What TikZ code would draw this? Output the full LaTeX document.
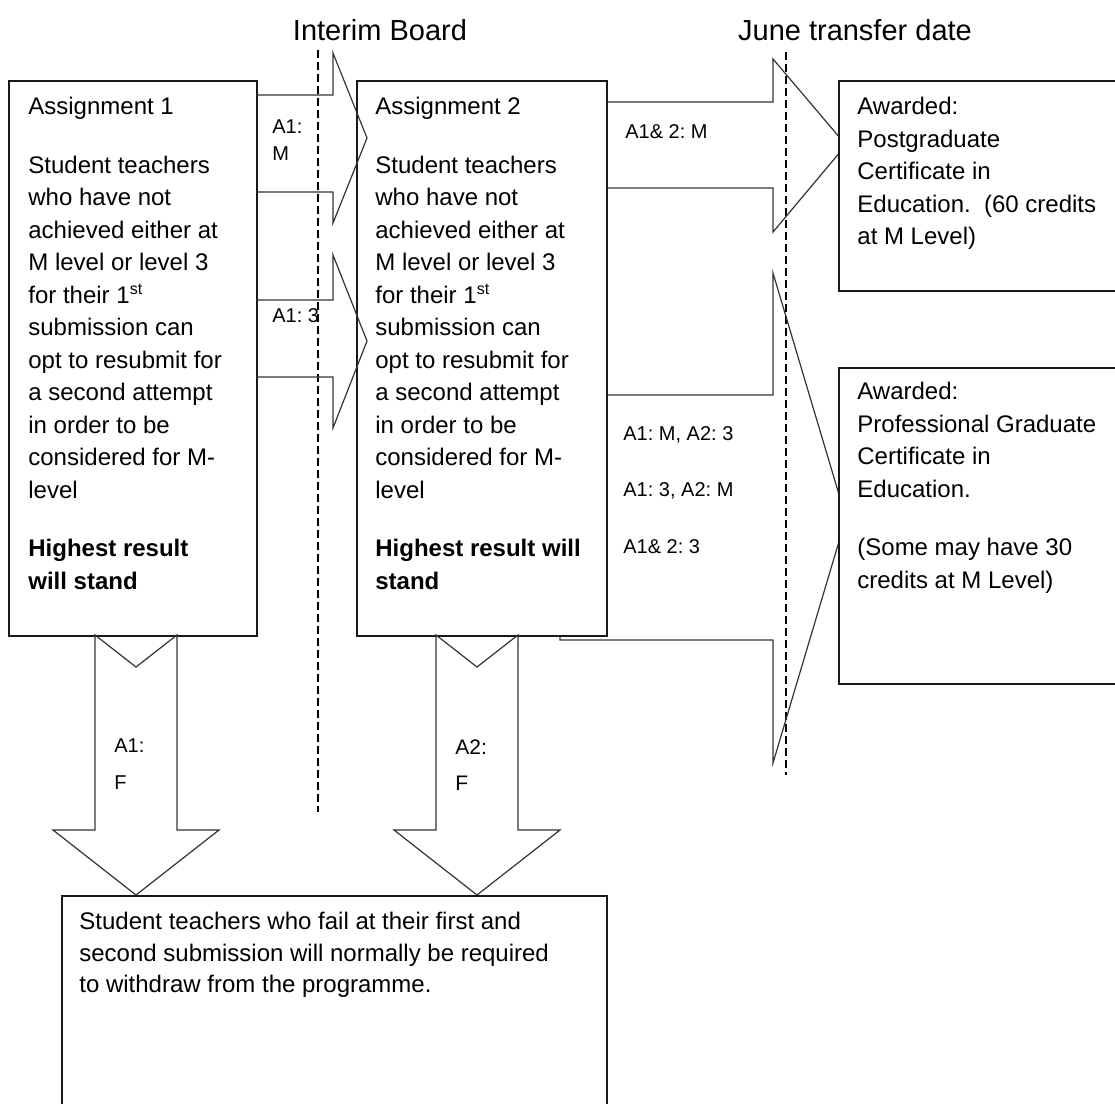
\documentclass[tikz,border=0pt]{standalone}
\usepackage{fontspec}
\setmainfont{Liberation Sans}
\frenchspacing
\usetikzlibrary{positioning}
\tikzstyle{box}=[draw=black!90,line width=0.8pt,fill=white,anchor=north west,inner sep=0pt]
\tikzstyle{boxtext}=[anchor=north west,inner sep=0pt,align=left,font=\fontsize{12}{16.25}\selectfont]
\tikzstyle{blockarrow}=[draw=black!80,line width=0.6pt,line join=miter]
\tikzstyle{arrowlabel}=[anchor=west,inner sep=0pt,align=left,font=\fontsize{10}{13.5}\selectfont]
\tikzstyle{heading}=[font=\fontsize{14.5}{17}\selectfont]
\tikzstyle{boardline}=[dash pattern=on 4pt off 2pt,line width=0.6pt]

\begin{document}
\begin{tikzpicture}[x=0.5pt,y=-0.5pt]

  \useasboundingbox (0,0) rectangle (1115,1104);

  % the two deadlines
  \node[heading] (interim) at (380,30) {Interim Board};
  \node[heading] (june) at (855,30) {June transfer date};
  \draw[boardline] (318,50) -- (318,812);
  \draw[boardline] (786,52) -- (786,775);

  % to the awards
  \draw[blockarrow] (606,102) -- (773,102) -- (773,59) -- (846,145) -- (773,232) -- (773,188) -- (606,188);
  \draw[blockarrow] (560,635) -- (560,640) -- (773,640) -- (773,763) -- (846,518) -- (773,273) -- (773,395) -- (606,395);

  \node[box,minimum width=124pt,minimum height=277.5pt] (asg1) at (8,80) {};
  \node[box,minimum width=125pt,minimum height=277.5pt] (asg2) at (356,80) {};
  \node[box,minimum width=146pt,minimum height=105pt] (pgce) at (838,80) {};
  \node[box,minimum width=146pt,minimum height=158pt] (profgce) at (838,367) {};

  % interim board
  \draw[blockarrow] (256,95) -- (333,95) -- (333,53) -- (367,138) -- (333,223) -- (333,192) -- (256,192);
  \draw[blockarrow] (256,300) -- (333,300) -- (333,255) -- (367,341) -- (333,428) -- (333,377) -- (256,377);

  % fails
  \foreach \cx in {136,477}
    \draw[blockarrow] ({\cx-41},635) -- (\cx,667) -- ({\cx+41},635) -- ({\cx+41},830) -- ({\cx+83},830) -- (\cx,895) -- ({\cx-83},830) -- ({\cx-41},830) -- cycle;

  \node[box,minimum width=272.5pt,minimum height=112.5pt] (withdraw) at (61,895) {};

  \node[boxtext] (asg1text) at ([shift={(20,17)}]asg1.north west) {Assignment 1\\[13pt]
    Student teachers\\ who have not\\ achieved either at\\ M level or level 3\\ for their 1\textsuperscript{st}\\
    submission can\\ opt to resubmit for\\ a second attempt\\ in order to be\\ considered for M-\\ level\\[13pt]
    \textbf{Highest result}\\ \textbf{will stand}};
  \node[boxtext] (asg2text) at ([shift={(19,17)}]asg2.north west) {Assignment 2\\[13pt]
    Student teachers\\ who have not\\ achieved either at\\ M level or level 3\\ for their 1\textsuperscript{st}\\
    submission can\\ opt to resubmit for\\ a second attempt\\ in order to be\\ considered for M-\\ level\\[13pt]
    \textbf{Highest result will}\\ \textbf{stand}};
  \node[boxtext] (pgcetext) at ([shift={(19,17)}]pgce.north west) {Awarded:\\ Postgraduate\\ Certificate in\\ Education.\ \ (60 credits\\ at M Level)};
  \node[boxtext] (profgcetext) at ([shift={(19,15)}]profgce.north west) {Awarded:\\ Professional Graduate\\ Certificate in\\ Education.\\[13pt] (Some may have 30\\ credits at M Level)};
  \node[boxtext,font=\fontsize{12}{15.75}\selectfont] (withdrawtext) at ([shift={(18,17)}]withdraw.north west) {Student teachers who fail at their first and\\ second submission will normally be required\\ to withdraw from the programme.};

  \node[arrowlabel] (a1m) at (272,140) {A1:\\ M};
  \node[arrowlabel] (a1three) at (272,316) {A1: 3};
  \node[arrowlabel] (bothm) at (625,132) {A1\& 2: M};
  \foreach \y/\txt in {435/{A1: M, A2: 3}, 491/{A1: 3, A2: M}, 547/{A1\& 2: 3}}
    \node[arrowlabel] (mixed\y) at (623,\y) {\txt};
  \node[arrowlabel,font=\fontsize{10}{18.5}\selectfont] (a1f) at (114,764) {A1:\\ F};
  \node[arrowlabel,font=\fontsize{10.5}{18}\selectfont] (a2f) at (455,765) {A2:\\ F};

\end{tikzpicture}
\end{document}
